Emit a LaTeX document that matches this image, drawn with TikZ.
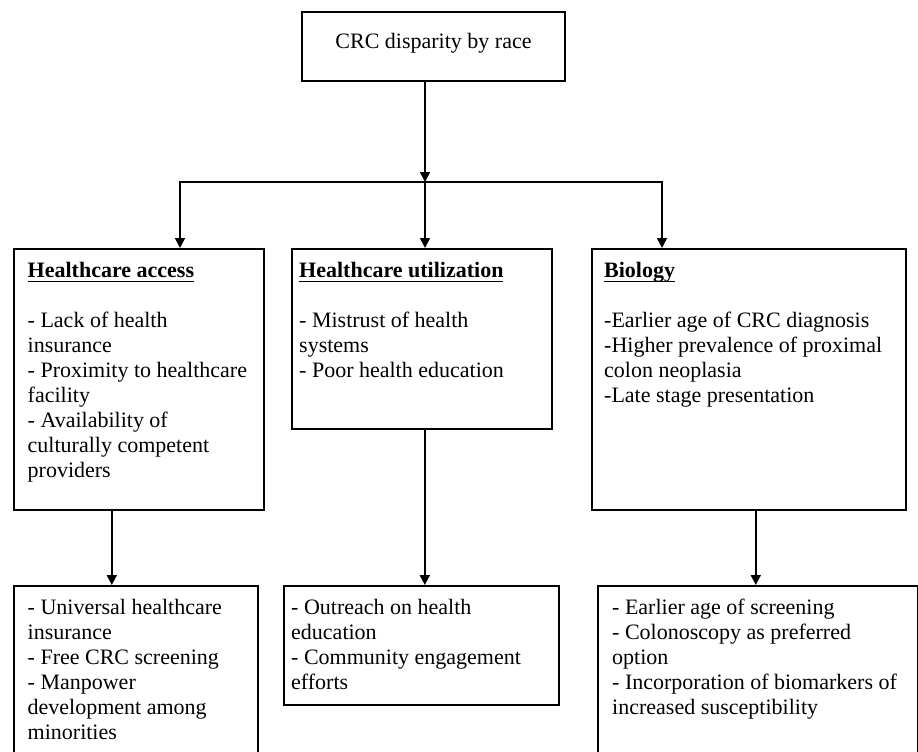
\documentclass[tikz,border=0pt]{standalone}
\usepackage{fontspec}
\setmainfont{Liberation Serif}
\usetikzlibrary{arrows.meta, positioning}
\newsavebox{\headbox}
\newcommand{\bodyfont}{\fontsize{22}{25}\selectfont}
\newcommand{\heading}[1]{\sbox{\headbox}{\textbf{#1}}%
  \rlap{\rule[-4.5pt]{\wd\headbox}{1.8pt}}\usebox{\headbox}}
\tikzset{
  panel/.style={draw, line width=1.6pt, anchor=north west, inner sep=0pt},
  copy/.style={anchor=north west, inner sep=0pt, align=left, font=\bodyfont},
  link/.style={-{Triangle[width=10pt,length=10pt]}, line width=1.8pt},
  bar/.style={line width=1.8pt, line cap=rect},
}

\begin{document}
\begin{tikzpicture}[x=1pt, y=-1pt]
  \useasboundingbox (0,0) rectangle (918,752);
  % root
  \node[panel, anchor=center, minimum width=263pt, minimum height=69pt,
        font=\bodyfont, text height=15pt, text depth=11pt] (crc) at (433.5,46.5) {CRC disparity by race};
  % causes
  \node[panel, minimum width=250pt, minimum height=261pt] (acc) at (13,248) {};
  \node[panel, minimum width=260pt, minimum height=180pt] (use) at (291,248) {};
  \node[panel, minimum width=314pt, minimum height=261pt] (bio) at (591,248) {};
  % remedies
  \node[panel, minimum width=244pt, minimum height=200pt] (accFix) at (13,585) {};
  \node[panel, minimum width=275pt, minimum height=119pt] (useFix) at (283,585) {};
  \node[panel, minimum width=320pt, minimum height=200pt] (bioFix) at (597,585) {};

  \node[copy] (accTxt) at ([shift={(14.5,14.5)}]acc.north west)
    {\heading{Healthcare access}\\[25pt]
     - Lack of health\\ insurance\\ - Proximity to healthcare\\ facility\\
     - Availability of\\ culturally competent\\ providers};
  \node[copy] (useTxt) at ([shift={(8,14.5)}]use.north west)
    {\heading{Healthcare utilization}\\[25pt]
     - Mistrust of health\\ systems\\ - Poor health education};
  \node[copy] (bioTxt) at ([shift={(13,14.5)}]bio.north west)
    {\heading{Biology}\\[25pt]
     -Earlier age of CRC diagnosis\\ -Higher prevalence of proximal\\
     colon neoplasia\\ -Late stage presentation};

  \node[copy] (accFixTxt) at ([shift={(14.5,14)}]accFix.north west)
    {- Universal healthcare\\ insurance\\ - Free CRC screening\\
     - Manpower\\ development among\\ minorities};
  \node[copy] (useFixTxt) at ([shift={(8,14)}]useFix.north west)
    {- Outreach on health\\ education\\ - Community engagement\\ efforts};
  \node[copy] (bioFixTxt) at ([shift={(15,14)}]bioFix.north west)
    {- Earlier age of screening\\ - Colonoscopy as preferred\\ option\\
     - Incorporation of biomarkers of\\ increased susceptibility};

  % connectors
  \coordinate (hub) at (425,182);
  \coordinate (hubL) at (180,182);
  \coordinate (hubR) at (662,182);
  \draw[link] (crc.south -| hub) -- (hub);
  \draw[bar] (hubL) -- (hubR);
  \draw[link] (hubL) -- (hubL |- acc.north);
  \draw[link] (hub) -- (hub |- use.north);
  \draw[link] (hubR) -- (hubR |- bio.north);
  \draw[link] ([xshift=-27pt]acc.south) -- ([xshift=-27pt]acc.south |- accFix.north);
  \draw[link] ([xshift=3pt]use.south) -- ([xshift=3pt]use.south |- useFix.north);
  \draw[link] ([xshift=7pt]bio.south) -- ([xshift=7pt]bio.south |- bioFix.north);
\end{tikzpicture}
\end{document}
